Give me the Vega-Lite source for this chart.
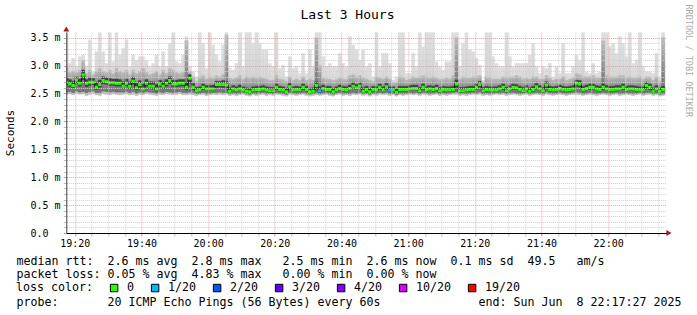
{
"$schema": "https://vega.github.io/schema/vega-lite/v6.json",
"width": 600, "height": 201,
"autosize": "none",
"padding": {"left": 66.3, "top": 32, "right": 30.7, "bottom": 82},
"background": "white",
"title": {"text": "Last 3 Hours", "font": "DejaVu Sans Mono", "fontSize": 13, "fontWeight": "normal", "color": "#000", "anchor": "middle", "frame": "group", "dx": -18.8, "dy": 28, "offset": 0, "baseline": "alphabetic"},
"config": {"view": {"stroke": null}},
"data": {"values": [
{"t":17,"e":18,"md":2.70,"lo":2.48,"l2":2.52,"l1":2.65,"h1":2.77,"h2":3.00,"hi":3.59,"loss":"0"},
{"t":18,"e":19,"md":2.67,"lo":2.49,"l2":2.53,"l1":2.62,"h1":2.75,"h2":2.88,"hi":3.04,"loss":"0"},
{"t":19,"e":20,"md":2.64,"lo":2.47,"l2":2.51,"l1":2.60,"h1":2.72,"h2":2.90,"hi":3.13,"loss":"0"},
{"t":20,"e":21,"md":2.74,"lo":2.50,"l2":2.54,"l1":2.68,"h1":2.80,"h2":2.88,"hi":2.98,"loss":"0"},
{"t":21,"e":22,"md":2.68,"lo":2.48,"l2":2.52,"l1":2.63,"h1":2.76,"h2":2.92,"hi":3.16,"loss":"0"},
{"t":22,"e":23,"md":2.83,"lo":2.49,"l2":2.53,"l1":2.74,"h1":2.92,"h2":3.10,"hi":3.19,"loss":"0"},
{"t":23,"e":24,"md":2.68,"lo":2.46,"l2":2.51,"l1":2.62,"h1":2.75,"h2":2.86,"hi":2.98,"loss":"0"},
{"t":24,"e":25,"md":2.70,"lo":2.48,"l2":2.53,"l1":2.64,"h1":2.78,"h2":2.92,"hi":3.46,"loss":"0"},
{"t":25,"e":26,"md":2.70,"lo":2.50,"l2":2.54,"l1":2.65,"h1":2.77,"h2":2.84,"hi":2.89,"loss":"0"},
{"t":26,"e":27,"md":2.61,"lo":2.47,"l2":2.51,"l1":2.57,"h1":2.70,"h2":2.90,"hi":3.25,"loss":"0"},
{"t":27,"e":28,"md":2.66,"lo":2.46,"l2":2.51,"l1":2.61,"h1":2.74,"h2":2.95,"hi":3.59,"loss":"0"},
{"t":28,"e":29,"md":2.73,"lo":2.49,"l2":2.54,"l1":2.67,"h1":2.80,"h2":2.90,"hi":3.25,"loss":"0"},
{"t":29,"e":30,"md":2.71,"lo":2.48,"l2":2.53,"l1":2.66,"h1":2.78,"h2":2.88,"hi":3.04,"loss":"0"},
{"t":30,"e":31,"md":2.69,"lo":2.47,"l2":2.52,"l1":2.64,"h1":2.77,"h2":2.92,"hi":3.59,"loss":"0"},
{"t":31,"e":32,"md":2.69,"lo":2.49,"l2":2.53,"l1":2.64,"h1":2.76,"h2":2.86,"hi":3.07,"loss":"0"},
{"t":32,"e":33,"md":2.68,"lo":2.48,"l2":2.52,"l1":2.63,"h1":2.76,"h2":2.95,"hi":3.59,"loss":"0"},
{"t":33,"e":34,"md":2.68,"lo":2.47,"l2":2.52,"l1":2.63,"h1":2.75,"h2":2.90,"hi":3.19,"loss":"0"},
{"t":34,"e":35,"md":2.63,"lo":2.48,"l2":2.52,"l1":2.59,"h1":2.71,"h2":2.88,"hi":3.31,"loss":"0"},
{"t":35,"e":36,"md":2.68,"lo":2.49,"l2":2.53,"l1":2.63,"h1":2.76,"h2":2.92,"hi":3.46,"loss":"0"},
{"t":36,"e":37,"md":2.63,"lo":2.47,"l2":2.51,"l1":2.58,"h1":2.71,"h2":2.84,"hi":2.98,"loss":"0"},
{"t":37,"e":38,"md":2.72,"lo":2.48,"l2":2.53,"l1":2.66,"h1":2.79,"h2":2.92,"hi":3.19,"loss":"0"},
{"t":38,"e":39,"md":2.60,"lo":2.46,"l2":2.50,"l1":2.56,"h1":2.68,"h2":2.86,"hi":3.10,"loss":"0"},
{"t":39,"e":40,"md":2.66,"lo":2.48,"l2":2.52,"l1":2.61,"h1":2.73,"h2":2.90,"hi":3.16,"loss":"0"},
{"t":40,"e":41,"md":2.58,"lo":2.47,"l2":2.51,"l1":2.55,"h1":2.67,"h2":2.95,"hi":3.16,"loss":"0"},
{"t":41,"e":42,"md":2.68,"lo":2.49,"l2":2.53,"l1":2.63,"h1":2.75,"h2":2.88,"hi":3.10,"loss":"0"},
{"t":42,"e":43,"md":2.63,"lo":2.48,"l2":2.52,"l1":2.59,"h1":2.71,"h2":2.84,"hi":2.98,"loss":"0"},
{"t":43,"e":44,"md":2.63,"lo":2.47,"l2":2.51,"l1":2.58,"h1":2.71,"h2":2.86,"hi":3.04,"loss":"0"},
{"t":44,"e":45,"md":2.58,"lo":2.46,"l2":2.50,"l1":2.54,"h1":2.66,"h2":2.90,"hi":3.19,"loss":"0"},
{"t":45,"e":46,"md":2.67,"lo":2.48,"l2":2.52,"l1":2.62,"h1":2.74,"h2":2.84,"hi":2.98,"loss":"0"},
{"t":46,"e":47,"md":2.63,"lo":2.47,"l2":2.51,"l1":2.58,"h1":2.71,"h2":2.92,"hi":3.25,"loss":"0"},
{"t":47,"e":48,"md":2.68,"lo":2.49,"l2":2.53,"l1":2.63,"h1":2.75,"h2":2.86,"hi":2.98,"loss":"0"},
{"t":48,"e":49,"md":2.73,"lo":2.48,"l2":2.52,"l1":2.67,"h1":2.80,"h2":2.95,"hi":3.40,"loss":"0"},
{"t":49,"e":50,"md":2.67,"lo":2.47,"l2":2.51,"l1":2.62,"h1":2.74,"h2":2.92,"hi":3.59,"loss":"0"},
{"t":50,"e":51,"md":2.67,"lo":2.48,"l2":2.52,"l1":2.62,"h1":2.74,"h2":2.88,"hi":3.07,"loss":"0"},
{"t":51,"e":52,"md":2.68,"lo":2.49,"l2":2.53,"l1":2.63,"h1":2.75,"h2":2.86,"hi":3.04,"loss":"0"},
{"t":52,"e":53,"md":2.68,"lo":2.47,"l2":2.51,"l1":2.63,"h1":2.75,"h2":2.88,"hi":3.19,"loss":"0"},
{"t":53,"e":54,"md":2.61,"lo":2.47,"l2":2.51,"l1":2.57,"h1":2.70,"h2":3.45,"hi":3.52,"loss":"0"},
{"t":54,"e":55,"md":2.77,"lo":2.48,"l2":2.52,"l1":2.68,"h1":2.84,"h2":2.90,"hi":2.98,"loss":"0"},
{"t":55,"e":56,"md":2.61,"lo":2.47,"l2":2.51,"l1":2.56,"h1":2.68,"h2":2.80,"hi":2.89,"loss":"0"},
{"t":56,"e":57,"md":2.55,"lo":2.46,"l2":2.49,"l1":2.52,"h1":2.61,"h2":2.72,"hi":2.80,"loss":"0"},
{"t":57,"e":58,"md":2.56,"lo":2.47,"l2":2.50,"l1":2.53,"h1":2.62,"h2":2.80,"hi":3.59,"loss":"0"},
{"t":58,"e":59,"md":2.61,"lo":2.48,"l2":2.51,"l1":2.57,"h1":2.67,"h2":2.82,"hi":3.40,"loss":"0"},
{"t":59,"e":60,"md":2.58,"lo":2.46,"l2":2.49,"l1":2.55,"h1":2.64,"h2":2.76,"hi":2.95,"loss":"0"},
{"t":60,"e":61,"md":2.58,"lo":2.47,"l2":2.50,"l1":2.55,"h1":2.64,"h2":2.80,"hi":3.59,"loss":"0"},
{"t":61,"e":62,"md":2.58,"lo":2.48,"l2":2.51,"l1":2.55,"h1":2.65,"h2":2.78,"hi":3.37,"loss":"0"},
{"t":62,"e":63,"md":2.66,"lo":2.47,"l2":2.51,"l1":2.60,"h1":2.72,"h2":2.82,"hi":3.19,"loss":"0"},
{"t":63,"e":64,"md":2.66,"lo":2.48,"l2":2.52,"l1":2.61,"h1":2.72,"h2":2.80,"hi":3.07,"loss":"0"},
{"t":64,"e":65,"md":2.66,"lo":2.47,"l2":2.51,"l1":2.60,"h1":2.73,"h2":2.84,"hi":3.37,"loss":"0"},
{"t":65,"e":66,"md":2.65,"lo":2.48,"l2":2.51,"l1":2.59,"h1":2.72,"h2":3.55,"hi":3.59,"loss":"0"},
{"t":66,"e":67,"md":2.54,"lo":2.46,"l2":2.49,"l1":2.51,"h1":2.60,"h2":2.78,"hi":2.95,"loss":"0"},
{"t":67,"e":68,"md":2.58,"lo":2.47,"l2":2.50,"l1":2.55,"h1":2.64,"h2":2.76,"hi":2.92,"loss":"0"},
{"t":68,"e":69,"md":2.56,"lo":2.46,"l2":2.49,"l1":2.53,"h1":2.62,"h2":2.78,"hi":3.04,"loss":"0"},
{"t":69,"e":70,"md":2.58,"lo":2.47,"l2":2.50,"l1":2.55,"h1":2.65,"h2":2.82,"hi":3.59,"loss":"0"},
{"t":70,"e":71,"md":2.56,"lo":2.48,"l2":2.51,"l1":2.53,"h1":2.62,"h2":2.76,"hi":2.98,"loss":"0"},
{"t":71,"e":72,"md":2.54,"lo":2.46,"l2":2.49,"l1":2.51,"h1":2.60,"h2":2.80,"hi":3.59,"loss":"0"},
{"t":72,"e":73,"md":2.53,"lo":2.45,"l2":2.48,"l1":2.50,"h1":2.59,"h2":2.78,"hi":3.59,"loss":"0"},
{"t":73,"e":74,"md":2.56,"lo":2.47,"l2":2.50,"l1":2.53,"h1":2.62,"h2":2.80,"hi":3.40,"loss":"0"},
{"t":74,"e":75,"md":2.57,"lo":2.46,"l2":2.49,"l1":2.54,"h1":2.63,"h2":2.78,"hi":3.59,"loss":"0"},
{"t":75,"e":76,"md":2.57,"lo":2.47,"l2":2.50,"l1":2.54,"h1":2.63,"h2":2.80,"hi":3.40,"loss":"0"},
{"t":76,"e":77,"md":2.58,"lo":2.48,"l2":2.51,"l1":2.55,"h1":2.64,"h2":2.78,"hi":3.28,"loss":"0"},
{"t":77,"e":78,"md":2.56,"lo":2.46,"l2":2.49,"l1":2.53,"h1":2.62,"h2":2.76,"hi":3.28,"loss":"0"},
{"t":78,"e":79,"md":2.55,"lo":2.47,"l2":2.50,"l1":2.52,"h1":2.61,"h2":2.74,"hi":3.04,"loss":"0"},
{"t":79,"e":80,"md":2.55,"lo":2.46,"l2":2.49,"l1":2.52,"h1":2.61,"h2":2.74,"hi":2.98,"loss":"0"},
{"t":80,"e":81,"md":2.61,"lo":2.48,"l2":2.51,"l1":2.57,"h1":2.67,"h2":2.82,"hi":3.59,"loss":"0"},
{"t":81,"e":82,"md":2.57,"lo":2.47,"l2":2.50,"l1":2.54,"h1":2.63,"h2":2.76,"hi":2.95,"loss":"0"},
{"t":82,"e":83,"md":2.56,"lo":2.46,"l2":2.49,"l1":2.53,"h1":2.62,"h2":2.75,"hi":3.01,"loss":"0"},
{"t":83,"e":84,"md":2.53,"lo":2.45,"l2":2.48,"l1":2.50,"h1":2.59,"h2":2.72,"hi":2.80,"loss":"0"},
{"t":84,"e":85,"md":2.62,"lo":2.48,"l2":2.51,"l1":2.58,"h1":2.68,"h2":2.80,"hi":3.16,"loss":"0"},
{"t":85,"e":86,"md":2.56,"lo":2.47,"l2":2.50,"l1":2.53,"h1":2.62,"h2":2.74,"hi":2.95,"loss":"0"},
{"t":86,"e":87,"md":2.57,"lo":2.46,"l2":2.49,"l1":2.54,"h1":2.63,"h2":2.76,"hi":2.98,"loss":"0"},
{"t":87,"e":88,"md":2.56,"lo":2.47,"l2":2.50,"l1":2.53,"h1":2.62,"h2":2.74,"hi":2.86,"loss":"0"},
{"t":88,"e":89,"md":2.61,"lo":2.48,"l2":2.51,"l1":2.57,"h1":2.67,"h2":2.80,"hi":3.22,"loss":"0"},
{"t":89,"e":90,"md":2.57,"lo":2.46,"l2":2.49,"l1":2.54,"h1":2.63,"h2":2.74,"hi":2.86,"loss":"0"},
{"t":90,"e":91,"md":2.53,"lo":2.45,"l2":2.48,"l1":2.50,"h1":2.59,"h2":2.76,"hi":3.28,"loss":"0"},
{"t":91,"e":92,"md":2.54,"lo":2.46,"l2":2.49,"l1":2.51,"h1":2.60,"h2":2.74,"hi":2.98,"loss":"0"},
{"t":92,"e":93,"md":2.64,"lo":2.47,"l2":2.51,"l1":2.58,"h1":2.71,"h2":3.50,"hi":3.59,"loss":"0"},
{"t":93,"e":94,"md":2.55,"lo":2.46,"l2":2.49,"l1":2.52,"h1":2.62,"h2":3.00,"hi":3.59,"loss":"1/20"},
{"t":94,"e":95,"md":2.59,"lo":2.47,"l2":2.50,"l1":2.56,"h1":2.65,"h2":2.78,"hi":3.16,"loss":"0"},
{"t":95,"e":96,"md":2.57,"lo":2.48,"l2":2.51,"l1":2.54,"h1":2.63,"h2":2.76,"hi":2.98,"loss":"0"},
{"t":96,"e":97,"md":2.57,"lo":2.46,"l2":2.49,"l1":2.54,"h1":2.63,"h2":2.76,"hi":3.04,"loss":"0"},
{"t":97,"e":98,"md":2.53,"lo":2.45,"l2":2.48,"l1":2.50,"h1":2.59,"h2":2.74,"hi":2.98,"loss":"0"},
{"t":98,"e":99,"md":2.56,"lo":2.47,"l2":2.50,"l1":2.53,"h1":2.62,"h2":2.75,"hi":2.98,"loss":"0"},
{"t":99,"e":100,"md":2.59,"lo":2.48,"l2":2.51,"l1":2.56,"h1":2.65,"h2":2.78,"hi":3.22,"loss":"0"},
{"t":100,"e":101,"md":2.57,"lo":2.46,"l2":2.49,"l1":2.54,"h1":2.63,"h2":2.76,"hi":3.04,"loss":"0"},
{"t":101,"e":102,"md":2.56,"lo":2.47,"l2":2.50,"l1":2.53,"h1":2.62,"h2":2.75,"hi":2.98,"loss":"0"},
{"t":102,"e":103,"md":2.59,"lo":2.46,"l2":2.49,"l1":2.56,"h1":2.65,"h2":2.82,"hi":3.52,"loss":"0"},
{"t":103,"e":104,"md":2.63,"lo":2.48,"l2":2.51,"l1":2.59,"h1":2.69,"h2":2.84,"hi":3.37,"loss":"0"},
{"t":104,"e":105,"md":2.60,"lo":2.47,"l2":2.50,"l1":2.57,"h1":2.66,"h2":2.80,"hi":3.28,"loss":"0"},
{"t":105,"e":106,"md":2.63,"lo":2.48,"l2":2.51,"l1":2.59,"h1":2.69,"h2":2.82,"hi":3.10,"loss":"0"},
{"t":106,"e":107,"md":2.54,"lo":2.46,"l2":2.49,"l1":2.51,"h1":2.60,"h2":2.78,"hi":3.28,"loss":"0"},
{"t":107,"e":108,"md":2.57,"lo":2.47,"l2":2.50,"l1":2.54,"h1":2.63,"h2":2.76,"hi":2.98,"loss":"0"},
{"t":108,"e":109,"md":2.53,"lo":2.45,"l2":2.48,"l1":2.50,"h1":2.59,"h2":2.74,"hi":3.04,"loss":"0"},
{"t":109,"e":110,"md":2.57,"lo":2.47,"l2":2.50,"l1":2.54,"h1":2.63,"h2":2.72,"hi":2.80,"loss":"0"},
{"t":110,"e":111,"md":2.56,"lo":2.46,"l2":2.49,"l1":2.53,"h1":2.62,"h2":2.80,"hi":3.59,"loss":"0"},
{"t":111,"e":112,"md":2.61,"lo":2.48,"l2":2.51,"l1":2.57,"h1":2.67,"h2":2.78,"hi":2.98,"loss":"0"},
{"t":112,"e":113,"md":2.56,"lo":2.47,"l2":2.50,"l1":2.53,"h1":2.62,"h2":2.76,"hi":3.22,"loss":"0"},
{"t":113,"e":114,"md":2.62,"lo":2.48,"l2":2.51,"l1":2.58,"h1":2.68,"h2":2.80,"hi":3.22,"loss":"0"},
{"t":114,"e":115,"md":2.56,"lo":2.46,"l2":2.49,"l1":2.53,"h1":2.62,"h2":2.76,"hi":3.04,"loss":"1/20"},
{"t":115,"e":116,"md":2.56,"lo":2.47,"l2":2.50,"l1":2.53,"h1":2.62,"h2":2.70,"hi":2.74,"loss":"0"},
{"t":116,"e":117,"md":2.52,"lo":2.45,"l2":2.48,"l1":2.49,"h1":2.58,"h2":2.70,"hi":2.80,"loss":"0"},
{"t":117,"e":118,"md":2.57,"lo":2.47,"l2":2.50,"l1":2.54,"h1":2.63,"h2":2.80,"hi":3.59,"loss":"0"},
{"t":118,"e":119,"md":2.57,"lo":2.46,"l2":2.49,"l1":2.54,"h1":2.63,"h2":2.78,"hi":3.59,"loss":"0"},
{"t":119,"e":120,"md":2.57,"lo":2.47,"l2":2.50,"l1":2.54,"h1":2.63,"h2":2.74,"hi":2.86,"loss":"0"},
{"t":120,"e":121,"md":2.58,"lo":2.48,"l2":2.51,"l1":2.55,"h1":2.64,"h2":2.76,"hi":2.86,"loss":"0"},
{"t":121,"e":122,"md":2.59,"lo":2.47,"l2":2.50,"l1":2.56,"h1":2.65,"h2":2.80,"hi":3.22,"loss":"0"},
{"t":122,"e":123,"md":2.59,"lo":2.48,"l2":2.51,"l1":2.56,"h1":2.65,"h2":2.78,"hi":2.98,"loss":"0"},
{"t":123,"e":124,"md":2.55,"lo":2.46,"l2":2.49,"l1":2.52,"h1":2.61,"h2":2.80,"hi":3.59,"loss":"0"},
{"t":124,"e":125,"md":2.61,"lo":2.48,"l2":2.51,"l1":2.57,"h1":2.67,"h2":2.82,"hi":3.34,"loss":"0"},
{"t":125,"e":126,"md":2.57,"lo":2.47,"l2":2.50,"l1":2.54,"h1":2.63,"h2":2.80,"hi":3.59,"loss":"0"},
{"t":126,"e":127,"md":2.58,"lo":2.46,"l2":2.49,"l1":2.55,"h1":2.64,"h2":2.78,"hi":3.59,"loss":"0"},
{"t":127,"e":128,"md":2.57,"lo":2.47,"l2":2.50,"l1":2.54,"h1":2.63,"h2":2.80,"hi":3.59,"loss":"0"},
{"t":128,"e":129,"md":2.59,"lo":2.48,"l2":2.51,"l1":2.56,"h1":2.65,"h2":2.78,"hi":3.07,"loss":"0"},
{"t":129,"e":130,"md":2.55,"lo":2.46,"l2":2.49,"l1":2.52,"h1":2.61,"h2":2.76,"hi":2.98,"loss":"0"},
{"t":130,"e":131,"md":2.57,"lo":2.47,"l2":2.50,"l1":2.54,"h1":2.63,"h2":2.76,"hi":2.92,"loss":"0"},
{"t":131,"e":132,"md":2.56,"lo":2.46,"l2":2.49,"l1":2.53,"h1":2.62,"h2":2.78,"hi":3.07,"loss":"0"},
{"t":132,"e":133,"md":2.56,"lo":2.47,"l2":2.50,"l1":2.53,"h1":2.62,"h2":2.76,"hi":3.07,"loss":"0"},
{"t":133,"e":134,"md":2.57,"lo":2.48,"l2":2.51,"l1":2.54,"h1":2.63,"h2":2.82,"hi":3.59,"loss":"0"},
{"t":134,"e":135,"md":2.67,"lo":2.48,"l2":2.52,"l1":2.61,"h1":2.74,"h2":3.50,"hi":3.59,"loss":"0"},
{"t":135,"e":136,"md":2.55,"lo":2.46,"l2":2.49,"l1":2.52,"h1":2.61,"h2":2.76,"hi":2.98,"loss":"0"},
{"t":136,"e":137,"md":2.55,"lo":2.47,"l2":2.50,"l1":2.52,"h1":2.61,"h2":2.80,"hi":3.40,"loss":"0"},
{"t":137,"e":138,"md":2.56,"lo":2.46,"l2":2.49,"l1":2.53,"h1":2.62,"h2":2.78,"hi":3.59,"loss":"0"},
{"t":138,"e":139,"md":2.57,"lo":2.47,"l2":2.50,"l1":2.54,"h1":2.63,"h2":2.78,"hi":3.28,"loss":"0"},
{"t":139,"e":140,"md":2.57,"lo":2.48,"l2":2.51,"l1":2.54,"h1":2.63,"h2":2.80,"hi":3.25,"loss":"0"},
{"t":140,"e":141,"md":2.61,"lo":2.47,"l2":2.50,"l1":2.57,"h1":2.67,"h2":2.80,"hi":3.13,"loss":"0"},
{"t":141,"e":142,"md":2.66,"lo":2.48,"l2":2.52,"l1":2.61,"h1":2.72,"h2":2.82,"hi":3.01,"loss":"0"},
{"t":142,"e":143,"md":2.55,"lo":2.46,"l2":2.49,"l1":2.52,"h1":2.61,"h2":2.70,"hi":2.74,"loss":"0"},
{"t":143,"e":144,"md":2.57,"lo":2.47,"l2":2.50,"l1":2.54,"h1":2.63,"h2":2.80,"hi":3.59,"loss":"0"},
{"t":144,"e":145,"md":2.56,"lo":2.46,"l2":2.49,"l1":2.53,"h1":2.62,"h2":2.78,"hi":3.59,"loss":"0"},
{"t":145,"e":146,"md":2.56,"lo":2.47,"l2":2.50,"l1":2.53,"h1":2.62,"h2":2.76,"hi":3.16,"loss":"0"},
{"t":146,"e":147,"md":2.56,"lo":2.48,"l2":2.51,"l1":2.53,"h1":2.62,"h2":2.76,"hi":3.04,"loss":"0"},
{"t":147,"e":148,"md":2.58,"lo":2.47,"l2":2.50,"l1":2.55,"h1":2.64,"h2":2.76,"hi":2.98,"loss":"0"},
{"t":148,"e":149,"md":2.61,"lo":2.48,"l2":2.51,"l1":2.57,"h1":2.67,"h2":2.80,"hi":2.98,"loss":"0"},
{"t":149,"e":150,"md":2.55,"lo":2.46,"l2":2.49,"l1":2.52,"h1":2.61,"h2":2.78,"hi":3.59,"loss":"0"},
{"t":150,"e":151,"md":2.58,"lo":2.47,"l2":2.50,"l1":2.55,"h1":2.64,"h2":2.80,"hi":3.16,"loss":"0"},
{"t":151,"e":152,"md":2.61,"lo":2.48,"l2":2.51,"l1":2.57,"h1":2.67,"h2":2.80,"hi":2.98,"loss":"0"},
{"t":152,"e":153,"md":2.60,"lo":2.47,"l2":2.50,"l1":2.57,"h1":2.66,"h2":2.82,"hi":3.04,"loss":"0"},
{"t":153,"e":154,"md":2.57,"lo":2.46,"l2":2.49,"l1":2.54,"h1":2.63,"h2":2.80,"hi":3.04,"loss":"0"},
{"t":154,"e":155,"md":2.55,"lo":2.47,"l2":2.50,"l1":2.52,"h1":2.61,"h2":2.76,"hi":3.04,"loss":"0"},
{"t":155,"e":156,"md":2.58,"lo":2.48,"l2":2.51,"l1":2.55,"h1":2.64,"h2":2.78,"hi":3.04,"loss":"0"},
{"t":156,"e":157,"md":2.54,"lo":2.46,"l2":2.49,"l1":2.51,"h1":2.60,"h2":2.76,"hi":3.19,"loss":"0"},
{"t":157,"e":158,"md":2.57,"lo":2.47,"l2":2.50,"l1":2.54,"h1":2.63,"h2":2.80,"hi":3.40,"loss":"0"},
{"t":158,"e":159,"md":2.62,"lo":2.48,"l2":2.51,"l1":2.58,"h1":2.68,"h2":2.80,"hi":2.98,"loss":"0"},
{"t":159,"e":160,"md":2.58,"lo":2.47,"l2":2.50,"l1":2.55,"h1":2.64,"h2":2.76,"hi":2.86,"loss":"0"},
{"t":160,"e":161,"md":2.55,"lo":2.46,"l2":2.49,"l1":2.52,"h1":2.61,"h2":2.76,"hi":2.98,"loss":"0"},
{"t":161,"e":162,"md":2.65,"lo":2.48,"l2":2.52,"l1":2.60,"h1":2.71,"h2":2.82,"hi":2.95,"loss":"0"},
{"t":162,"e":163,"md":2.57,"lo":2.47,"l2":2.50,"l1":2.54,"h1":2.63,"h2":2.78,"hi":3.04,"loss":"0"},
{"t":163,"e":164,"md":2.56,"lo":2.46,"l2":2.49,"l1":2.53,"h1":2.62,"h2":2.74,"hi":2.80,"loss":"0"},
{"t":164,"e":165,"md":2.57,"lo":2.47,"l2":2.50,"l1":2.54,"h1":2.63,"h2":2.76,"hi":2.98,"loss":"0"},
{"t":165,"e":166,"md":2.59,"lo":2.48,"l2":2.51,"l1":2.56,"h1":2.65,"h2":2.76,"hi":2.86,"loss":"0"},
{"t":166,"e":167,"md":2.57,"lo":2.47,"l2":2.50,"l1":2.54,"h1":2.63,"h2":2.80,"hi":3.40,"loss":"0"},
{"t":167,"e":168,"md":2.56,"lo":2.46,"l2":2.49,"l1":2.53,"h1":2.62,"h2":2.74,"hi":2.86,"loss":"0"},
{"t":168,"e":169,"md":2.57,"lo":2.47,"l2":2.50,"l1":2.54,"h1":2.63,"h2":2.76,"hi":2.86,"loss":"0"},
{"t":169,"e":170,"md":2.58,"lo":2.48,"l2":2.51,"l1":2.55,"h1":2.64,"h2":2.78,"hi":2.98,"loss":"0"},
{"t":170,"e":171,"md":2.68,"lo":2.48,"l2":2.52,"l1":2.62,"h1":2.74,"h2":2.86,"hi":3.19,"loss":"0"},
{"t":171,"e":172,"md":2.67,"lo":2.47,"l2":2.51,"l1":2.61,"h1":2.73,"h2":2.84,"hi":3.10,"loss":"0"},
{"t":172,"e":173,"md":2.57,"lo":2.46,"l2":2.49,"l1":2.54,"h1":2.63,"h2":2.80,"hi":3.59,"loss":"0"},
{"t":173,"e":174,"md":2.59,"lo":2.47,"l2":2.50,"l1":2.56,"h1":2.65,"h2":2.80,"hi":2.89,"loss":"0"},
{"t":174,"e":175,"md":2.61,"lo":2.48,"l2":2.51,"l1":2.57,"h1":2.67,"h2":2.80,"hi":2.86,"loss":"0"},
{"t":175,"e":176,"md":2.61,"lo":2.47,"l2":2.50,"l1":2.57,"h1":2.67,"h2":2.82,"hi":3.04,"loss":"0"},
{"t":176,"e":177,"md":2.58,"lo":2.46,"l2":2.49,"l1":2.55,"h1":2.64,"h2":2.78,"hi":2.86,"loss":"0"},
{"t":177,"e":178,"md":2.57,"lo":2.47,"l2":2.50,"l1":2.54,"h1":2.63,"h2":2.78,"hi":2.89,"loss":"0"},
{"t":178,"e":179,"md":2.61,"lo":2.48,"l2":2.51,"l1":2.57,"h1":2.67,"h2":3.45,"hi":3.59,"loss":"0"},
{"t":179,"e":180,"md":2.58,"lo":2.47,"l2":2.50,"l1":2.55,"h1":2.64,"h2":2.82,"hi":3.59,"loss":"0"},
{"t":180,"e":181,"md":2.57,"lo":2.46,"l2":2.49,"l1":2.54,"h1":2.63,"h2":2.80,"hi":3.34,"loss":"0"},
{"t":181,"e":182,"md":2.57,"lo":2.47,"l2":2.50,"l1":2.54,"h1":2.63,"h2":2.80,"hi":3.40,"loss":"0"},
{"t":182,"e":183,"md":2.58,"lo":2.48,"l2":2.51,"l1":2.55,"h1":2.64,"h2":2.80,"hi":3.22,"loss":"0"},
{"t":183,"e":184,"md":2.58,"lo":2.46,"l2":2.49,"l1":2.55,"h1":2.64,"h2":2.82,"hi":3.52,"loss":"0"},
{"t":184,"e":185,"md":2.61,"lo":2.47,"l2":2.50,"l1":2.57,"h1":2.67,"h2":2.82,"hi":3.40,"loss":"0"},
{"t":185,"e":186,"md":2.57,"lo":2.48,"l2":2.51,"l1":2.54,"h1":2.63,"h2":2.78,"hi":3.16,"loss":"0"},
{"t":186,"e":187,"md":2.58,"lo":2.47,"l2":2.50,"l1":2.55,"h1":2.64,"h2":2.80,"hi":3.59,"loss":"0"},
{"t":187,"e":188,"md":2.58,"lo":2.46,"l2":2.49,"l1":2.55,"h1":2.64,"h2":2.78,"hi":3.04,"loss":"0"},
{"t":188,"e":189,"md":2.57,"lo":2.47,"l2":2.50,"l1":2.54,"h1":2.63,"h2":2.78,"hi":3.10,"loss":"0"},
{"t":189,"e":190,"md":2.56,"lo":2.48,"l2":2.51,"l1":2.53,"h1":2.62,"h2":2.80,"hi":3.59,"loss":"0"},
{"t":190,"e":191,"md":2.56,"lo":2.46,"l2":2.49,"l1":2.53,"h1":2.62,"h2":2.76,"hi":2.98,"loss":"0"},
{"t":191,"e":192,"md":2.64,"lo":2.47,"l2":2.51,"l1":2.59,"h1":2.70,"h2":2.80,"hi":2.89,"loss":"0"},
{"t":192,"e":193,"md":2.61,"lo":2.48,"l2":2.51,"l1":2.57,"h1":2.67,"h2":2.80,"hi":2.89,"loss":"0"},
{"t":193,"e":194,"md":2.54,"lo":2.46,"l2":2.49,"l1":2.51,"h1":2.60,"h2":2.74,"hi":2.86,"loss":"0"},
{"t":194,"e":195,"md":2.58,"lo":2.47,"l2":2.50,"l1":2.55,"h1":2.64,"h2":2.80,"hi":3.22,"loss":"0"},
{"t":195,"e":196,"md":2.54,"lo":2.45,"l2":2.48,"l1":2.51,"h1":2.60,"h2":2.72,"hi":2.80,"loss":"0"},
{"t":196,"e":197,"md":2.57,"lo":2.46,"l2":2.49,"l1":2.54,"h1":2.63,"h2":3.50,"hi":3.59,"loss":"0"}
]},
"layer": [
{"mark": {"type": "rect", "clip": true, "strokeWidth": 0.3,
  "fill": {"gradient": "linear", "x1": 0, "y1": 1, "x2": 0, "y2": 0, "stops": [{"offset": 0, "color": "#c2c2c2"}, {"offset": 0.4, "color": "#d4d4d4"}, {"offset": 1, "color": "#dedede"}]},
  "stroke": {"gradient": "linear", "x1": 0, "y1": 1, "x2": 0, "y2": 0, "stops": [{"offset": 0, "color": "#c2c2c2"}, {"offset": 0.4, "color": "#d4d4d4"}, {"offset": 1, "color": "#dedede"}]}},
 "encoding": {
  "x": {"field": "t", "type": "quantitative", "scale": {"domain": [17.45, 197.45], "nice": false, "zero": false},
   "axis": {"values": [20,25,30,35,40,45,50,55,60,65,70,75,80,85,90,95,100,105,110,115,120,125,130,135,140,145,150,155,160,165,170,175,180,185,190,195],
    "labelExpr": "datum.value % 20 === 0 ? (19 + floor(datum.value / 60)) + ':' + (datum.value % 60 < 10 ? '0' : '') + (datum.value % 60) : ''",
    "labelFont": "DejaVu Sans Mono", "labelFontSize": 10, "labelColor": "#000", "labelPadding": 2, "labelOverlap": false, "labelFlush": false, "labelBound": false,
    "tickSize": 3, "tickColor": {"condition": {"test": "datum.value % 20 === 0", "value": "#d98c8c"}, "value": "#bdbdbd"},
    "grid": true, "gridColor": {"condition": {"test": "datum.value % 20 === 0", "value": "#e3a3a3"}, "value": "#d0d0d0"}, "gridDash": [1, 1], "gridWidth": 1,
    "domainColor": "#000", "domainWidth": 1,
    "title": ["median\u00a0rtt:\u00a0\u00a02.6\u00a0ms\u00a0avg\u00a0\u00a02.8\u00a0ms\u00a0max\u00a0\u00a0\u00a02.5\u00a0ms\u00a0min\u00a0\u00a02.6\u00a0ms\u00a0now\u00a0\u00a00.1\u00a0ms\u00a0sd\u00a0\u00a049.5\u00a0\u00a0\u00a0am/s",
              "packet\u00a0loss:\u00a00.05\u00a0%\u00a0avg\u00a0\u00a04.83\u00a0%\u00a0max\u00a0\u00a0\u00a00.00\u00a0%\u00a0min\u00a0\u00a00.00\u00a0%\u00a0now"],
    "titleFont": "DejaVu Sans Mono", "titleFontSize": 11.63, "titleFontWeight": "normal", "titleColor": "#000",
    "titleAnchor": "start", "titleAlign": "left", "titleBaseline": "alphabetic", "titleX": -50.3, "titleY": 31, "titleLineHeight": 13.7,
    "zindex": 1}},
  "x2": {"field": "e"},
  "y": {"field": "lo", "type": "quantitative", "scale": {"domain": [0, 3.6], "nice": false},
   "axis": {"values": [0,0.1,0.2,0.3,0.4,0.5,0.6,0.7,0.8,0.9,1.0,1.1,1.2,1.3,1.4,1.5,1.6,1.7,1.8,1.9,2.0,2.1,2.2,2.3,2.4,2.5,2.6,2.7,2.8,2.9,3.0,3.1,3.2,3.3,3.4,3.5],
    "labelExpr": "datum.value === 0 ? '0.0' : (round(datum.value * 10) % 5 === 0 ? format(datum.value, '.1f') + ' m' : '')",
    "labelFont": "DejaVu Sans Mono", "labelFontSize": 10, "labelColor": "#000", "labelAlign": "left", "labelBaseline": "middle", "labelPadding": 33.3,
    "labelOverlap": false, "labelFlush": false, "labelBound": false,
    "tickSize": 3, "tickColor": {"condition": {"test": "round(datum.value * 10) % 5 === 0", "value": "#d98c8c"}, "value": "#bdbdbd"},
    "grid": true, "gridColor": {"condition": {"test": "round(datum.value * 10) % 5 === 0", "value": "#e3a3a3"}, "value": "#d0d0d0"}, "gridDash": [1, 1], "gridWidth": 1,
    "domainColor": "#404040", "domainWidth": 1,
    "title": "Seconds", "titleFont": "DejaVu Sans Mono", "titleFontSize": 11, "titleFontWeight": "normal", "titleColor": "#000",
    "titleX": -56.3, "titleY": 100.5, "titleAngle": -90, "titleAlign": "center", "titleBaseline": "middle",
    "zindex": 1}},
  "y2": {"field": "hi"}
 }},
{"mark": {"type": "rect", "clip": true, "strokeWidth": 0.3,
  "fill": {"gradient": "linear", "x1": 0, "y1": 1, "x2": 0, "y2": 0, "stops": [{"offset": 0, "color": "#6e6e6e"}, {"offset": 0.35, "color": "#858585"}, {"offset": 1, "color": "#bcbcbc"}]},
  "stroke": {"gradient": "linear", "x1": 0, "y1": 1, "x2": 0, "y2": 0, "stops": [{"offset": 0, "color": "#6e6e6e"}, {"offset": 0.35, "color": "#858585"}, {"offset": 1, "color": "#bcbcbc"}]}},
 "encoding": {"x": {"field": "t", "type": "quantitative", "axis": null}, "x2": {"field": "e"}, "y": {"field": "l2", "type": "quantitative", "axis": null}, "y2": {"field": "h2"}}},
{"mark": {"type": "rect", "color": "#424242", "stroke": "#424242", "strokeWidth": 0.3, "clip": true},
 "encoding": {"x": {"field": "t", "type": "quantitative", "axis": null}, "x2": {"field": "e"}, "y": {"field": "l1", "type": "quantitative", "axis": null}, "y2": {"field": "h1"}}},
{"mark": {"type": "line", "interpolate": "step-after", "color": "#111111", "strokeWidth": 1, "clip": true},
 "encoding": {"x": {"field": "t", "type": "quantitative", "axis": null}, "y": {"field": "md", "type": "quantitative", "axis": null}}},
{"mark": {"type": "tick", "orient": "horizontal", "size": 3.4, "thickness": 3, "xOffset": 1.667, "opacity": 1, "clip": true},
 "encoding": {
  "x": {"field": "t", "type": "quantitative", "axis": null},
  "y": {"field": "md", "type": "quantitative",
   "axis": {"orient": "right", "domain": false, "ticks": false, "labels": false, "grid": false,
    "title": "RRDTOOL / TOBI OETIKER", "titleAngle": 90, "titleFont": "DejaVu Sans Mono", "titleFontSize": 8.5, "titleFontWeight": "normal", "titleColor": "#aaaaaa",
    "titleAlign": "left", "titleBaseline": "middle", "titleX": 21.7, "titleY": -28}},
  "color": {"field": "loss", "type": "nominal",
   "scale": {"domain": ["0", "1/20", "2/20", "3/20", "4/20", "10/20", "19/20"], "range": ["#26ff00", "#00b8ff", "#0059ff", "#5e00ff", "#7e00ff", "#dd00ff", "#ff0000"]},
   "legend": {"orient": "none", "legendX": -50.3, "legendY": 250, "direction": "horizontal",
    "title": "loss color:", "titleOrient": "left", "titlePadding": 15.3, "titleFont": "DejaVu Sans Mono", "titleFontSize": 11.63, "titleFontWeight": "normal", "titleColor": "#000", "titleBaseline": "middle", "titleLimit": 0,
    "symbolType": "square", "symbolSize": 56, "symbolStrokeColor": "#000", "symbolStrokeWidth": 1, "symbolOpacity": 1,
    "labelFont": "DejaVu Sans Mono", "labelFontSize": 11.63, "labelColor": "#000", "labelOffset": 7, "columnPadding": 15, "padding": 0, "labelLimit": 0}}
 }},
{"data": {"values": [{"x": 198.25, "y": 0}]},
 "mark": {"type": "point", "shape": "triangle-right", "filled": true, "color": "#a51d1d", "size": 36, "opacity": 1},
 "encoding": {
  "x": {"field": "x", "type": "quantitative",
   "axis": {"orient": "top", "domain": false, "ticks": false, "labels": false, "grid": false,
    "title": "probe:\u00a0\u00a0\u00a0\u00a0\u00a0\u00a0\u00a020\u00a0ICMP\u00a0Echo\u00a0Pings\u00a0(56\u00a0Bytes)\u00a0every\u00a060s\u00a0\u00a0\u00a0\u00a0\u00a0\u00a0\u00a0\u00a0\u00a0\u00a0\u00a0\u00a0\u00a0\u00a0end:\u00a0Sun\u00a0Jun\u00a0\u00a08\u00a022:17:27\u00a02025",
    "titleFont": "DejaVu Sans Mono", "titleFontSize": 11.63, "titleFontWeight": "normal", "titleColor": "#000",
    "titleAnchor": "start", "titleAlign": "left", "titleBaseline": "alphabetic", "titleAngle": 0, "titleX": -50.3, "titleY": 273.1}},
  "y": {"field": "y", "type": "quantitative", "axis": null}}},
{"data": {"values": [{"x": 17.45, "y": 3.654}]},
 "mark": {"type": "point", "shape": "triangle-up", "filled": true, "color": "#a51d1d", "size": 36, "opacity": 1},
 "encoding": {"x": {"field": "x", "type": "quantitative", "axis": null}, "y": {"field": "y", "type": "quantitative", "axis": null}}}
],
"resolve": {"axis": {"x": "independent", "y": "independent"}}
}
